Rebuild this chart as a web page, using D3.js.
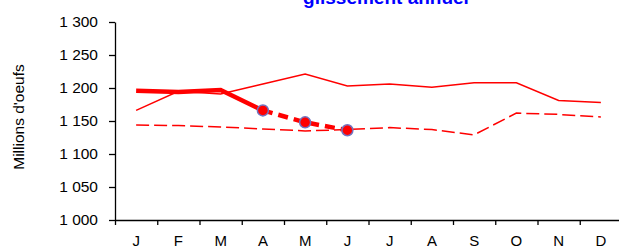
<!DOCTYPE html>
<html>
<head>
<meta charset="utf-8">
<script src="https://cdn.jsdelivr.net/npm/d3@7"></script>
<style>
    body { margin: 0; background: #fff; }
    svg { display: block; font-family: 'Liberation Sans', Arial, sans-serif; }
    .axis path, .axis line { stroke: #000; stroke-width: 1.3; }
    .axis text { fill: #000; }
</style>
</head>
<body>
<svg id="chart" width="619" height="248"></svg>
<script>
///////////////
/// DATA ///
///////////////

const months = ['J', 'F', 'M', 'A', 'M', 'J', 'J', 'A', 'S', 'O', 'N', 'D'];
const yTicks = [1000, 1050, 1100, 1150, 1200, 1250, 1300];

// previous year (thin solid)
const serieN1 = [1166, 1195, 1191, 1206, 1221, 1203, 1206, 1201, 1208, 1208, 1181, 1178];
// previous year, other series (thin dashed)
const serieN1b = [1144, 1143, 1141, 1138, 1135, 1137, 1140, 1137, 1129, 1162, 1160, 1156];
// current year observed (thick solid, J..A)
const serieN = [1196, 1194, 1197, 1166];
// current year estimate (thick dashed with markers, A..J)
const serieEst = [1166, 1148, 1136];
const estStart = 3;

const title = 'glissement annuel';
const yLabel = "Millions d'oeufs";

///////////////
/// SETUP ///
///////////////

const svg = d3.select('#chart');
const mLeft = 115, mRight = 622, mTop = 22, mBottom = 220;

const xBand = d3.scaleBand()
    .domain(d3.range(12))
    .range([mLeft, mRight]);

const xEdge = d3.scaleLinear()
    .domain([0, 12])
    .range([mLeft, mRight]);

const y = d3.scaleLinear()
    .domain([1000, 1300])
    .range([mBottom, mTop]);

const xc = function(i) { return xBand(i) + xBand.bandwidth() / 2; };

// axes
svg.append('g')
    .attr('class', 'axis')
    .attr('transform', 'translate(0,' + mBottom + ')')
    .call(d3.axisBottom(xEdge).ticks(12).tickSize(5).tickSizeOuter(0).tickFormat(''));

const xLabels = svg.append('g')
    .attr('class', 'axis')
    .attr('transform', 'translate(0,' + mBottom + ')')
    .call(d3.axisBottom(xBand).tickSize(0).tickPadding(15).tickFormat(function(i) { return months[i]; }));
xLabels.select('.domain').remove();
xLabels.selectAll('text').style('font-size', '15px');

const yAxis = svg.append('g')
    .attr('class', 'axis')
    .attr('transform', 'translate(' + mLeft + ',0)')
    .call(d3.axisLeft(y).tickValues(yTicks).tickSize(6).tickSizeOuter(0).tickPadding(11)
        .tickFormat(function(d) { return d3.format(',')(d).replace(',', ' '); }));
yAxis.selectAll('text').style('font-size', '15.5px');

// y label
svg.append('text')
    .attr('transform', 'translate(24,117) rotate(-90)')
    .attr('text-anchor', 'middle')
    .style('font-size', '15.5px')
    .text(yLabel);

// title (only the bottom line is visible)
svg.append('text')
    .attr('x', 386)
    .attr('y', 4)
    .attr('text-anchor', 'middle')
    .style('font-size', '19px')
    .style('font-weight', 'bold')
    .attr('fill', '#0000ff')
    .text(title);

///////////////
/// LINES ///
///////////////

const line = d3.line()
    .x(function(d) { return xc(d.i); })
    .y(function(d) { return y(d.v); });

function toPts(arr, start) {
    return arr.map(function(v, k) { return {i: start + k, v: v}; });
}

svg.append('path')
    .datum(toPts(serieN1b, 0))
    .attr('d', line)
    .attr('fill', 'none')
    .attr('stroke', '#ff0000')
    .attr('stroke-width', 1.5)
    .attr('stroke-dasharray', '13,5');

svg.append('path')
    .datum(toPts(serieN1, 0))
    .attr('d', line)
    .attr('fill', 'none')
    .attr('stroke', '#ff0000')
    .attr('stroke-width', 1.5);

svg.append('path')
    .datum(toPts(serieN, 0))
    .attr('d', line)
    .attr('fill', 'none')
    .attr('stroke', '#ff0000')
    .attr('stroke-width', 4.5);

svg.append('path')
    .datum(toPts(serieEst, estStart))
    .attr('d', line)
    .attr('fill', 'none')
    .attr('stroke', '#ff0000')
    .attr('stroke-width', 4.5)
    .attr('stroke-dasharray', '10,6');

svg.selectAll('circle.est')
    .data(toPts(serieEst, estStart))
    .enter()
    .append('circle')
    .attr('class', 'est')
    .attr('cx', function(d) { return xc(d.i); })
    .attr('cy', function(d) { return y(d.v); })
    .attr('r', 5.5)
    .attr('fill', '#ff0000')
    .attr('stroke', '#7373bf')
    .attr('stroke-width', 1.5);
</script>
</body>
</html>
